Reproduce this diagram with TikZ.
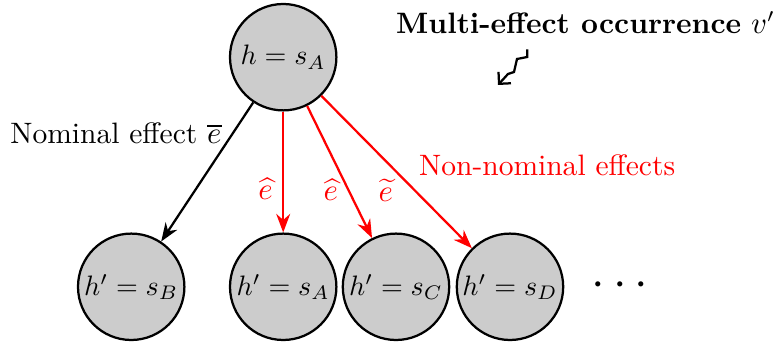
\documentclass[tikz,border=0pt]{standalone}
\usepackage{amsmath,amssymb}
\usepackage{tikz}
\usetikzlibrary{arrows.meta,positioning,shapes,calc,decorations.pathmorphing}
\usepackage{xcolor}

\begin{document}
\begin{tikzpicture}[>=Stealth]
  \useasboundingbox (0,0) rectangle (9.6625,4.275);
  \tikzset{state/.style={circle,draw,thick,fill=gray!40,minimum size=1.33cm,inner sep=0pt},
           lbl/.style={font=\fontsize{10.5}{12.6}\selectfont}}

  % Current state
  \node[state] (h) at (3.54,3.56) {$h = s_A$};

  % Successor states
  \foreach \n/\x in {B/1.64, A/3.54, C/4.95, D/6.375} {
    \node[state] (b\n) at (\x,0.69) {$h' = s_{\n}$};
  }
  \node[font=\LARGE] (dots) at (7.8,0.7) {$\cdots$};

  % Nominal effect
  \draw[->,thick] (h) -- (bB);
  \node[lbl] (nom) at (1.45,2.61) {Nominal effect $\overline{e}$};

  % Non-nominal effects
  \draw[->,thick,red] (h) -- (bA) node[lbl,pos=0.64,left] {$\widehat{e}$};
  \draw[->,thick,red] (h) -- (bC) node[lbl,pos=0.635,left] {$\widehat{e}$};
  \draw[->,thick,red] (h) -- (bD) node[lbl,pos=0.62,left=4pt] {$\widetilde{e}$};
  \node[lbl,red] (nonnom) at (6.84,2.21) {Non-nominal effects};

  % Occurrence
  \node[lbl] (occ) at (7.32,3.99) {\textbf{Multi-effect occurrence} $v'$};
  \coordinate (sq) at (6.591,3.659);
  \draw[-{Straight Barb[length=3pt,width=6pt]},thick]
    (sq) -- (6.591,3.5625) -- (6.4625,3.5375) -- (6.425,3.375) -- (6.35,3.35) -- (6.225,3.2125);
\end{tikzpicture}
\end{document}
